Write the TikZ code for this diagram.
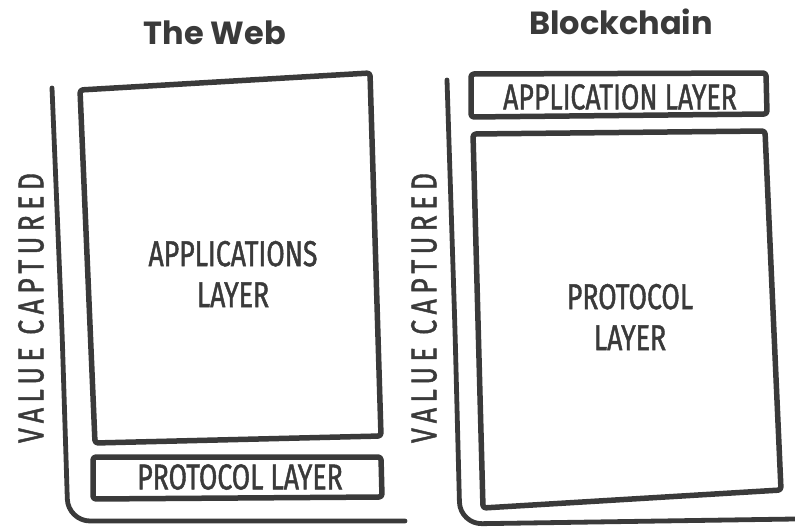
\documentclass[tikz,border=0pt]{standalone}
\usepackage{fontspec}
\setmainfont{Poppins}
\newfontfamily\hand{Fira Sans}[FakeStretch=0.74, FakeBold=1.2]
\newfontfamily\handwide{Fira Sans}[FakeStretch=0.74, FakeBold=1.2, LetterSpace=15]
\definecolor{ink}{HTML}{3A3A3A}
\tikzset{
  layerbox/.style={draw=ink, line width=5.5pt, line join=round, line cap=round, rounded corners=3pt},
  axisline/.style={draw=ink, line width=4.8pt, line cap=round, line join=round, rounded corners=22pt},
  heading/.style={text=ink, font=\fontsize{32}{38}\selectfont\bfseries, inner sep=0pt},
  scrawl/.style={text=ink, font=\hand\fontsize{36}{41}\selectfont, align=center, inner sep=0pt},
  sidelabel/.style={text=ink, font=\handwide\fontsize{36}{41}\selectfont, inner sep=0pt, rotate=90},
}
\begin{document}
\begin{tikzpicture}[x=1pt,y=-1pt]
\useasboundingbox (0,0) rectangle (795,529);

% ---- The Web ----
\node[heading] (webtitle) at (215,33) {The Web};
\draw[axisline] (52,88) -- (62,330) -- (68,521) -- (405,521);
\draw[layerbox] (80,90) -- (370,73) -- (381,436) -- (95,443) -- cycle;
\draw[layerbox] (93,457) -- (381,457) -- (382,497) -- (93,499) -- cycle;
\node[scrawl] (webapp) at (233,274) {APPLICATIONS\\LAYER};
\node[scrawl] (webproto) at (240,477) {PROTOCOL LAYER};
\node[sidelabel] (webvalue) at (31,308) {VALUE CAPTURED};

% ---- Blockchain ----
\node[heading] (bctitle) at (621,22) {Blockchain};
\draw[axisline] (447,80) -- (455,330) -- (460,524) -- (795,519);
\draw[layerbox] (471,74) -- (766,73) -- (767,114) -- (471,117) -- cycle;
\draw[layerbox] (473,134) -- (765,131) -- (781,490) -- (483,508) -- cycle;
\node[scrawl] (bcapp) at (620,97) {APPLICATION LAYER};
\node[scrawl] (bcproto) at (630,317) {PROTOCOL\\LAYER};
\node[sidelabel] (bcvalue) at (424,308) {VALUE CAPTURED};
\end{tikzpicture}
\end{document}
